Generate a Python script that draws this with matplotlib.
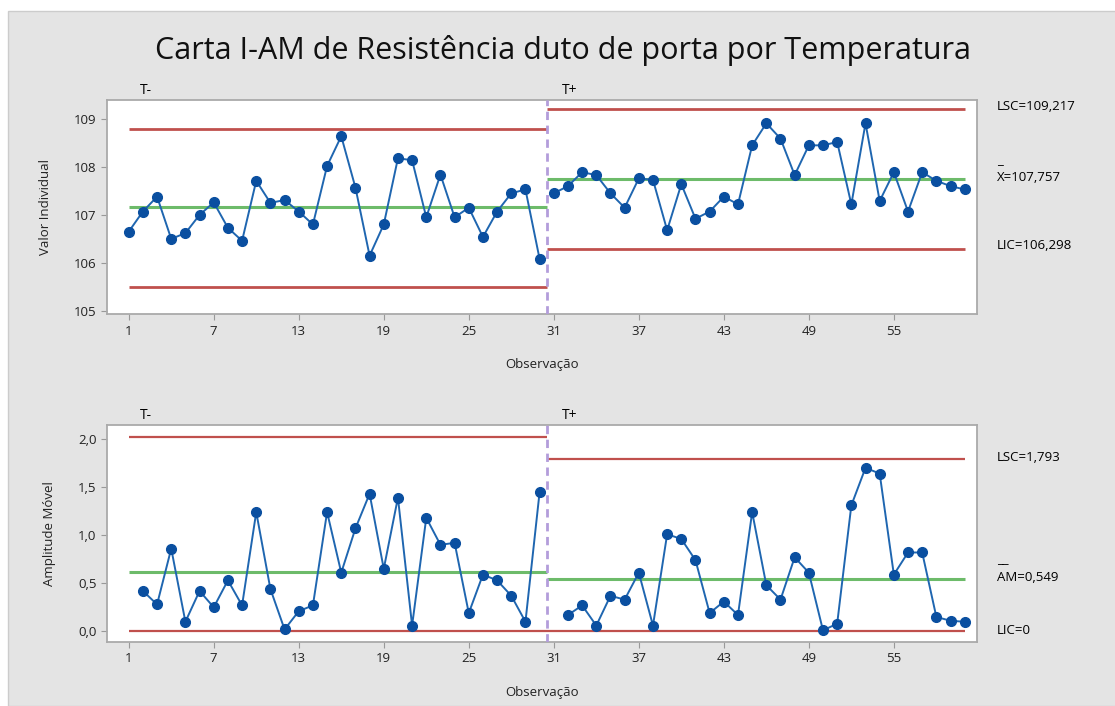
import matplotlib
matplotlib.use('Agg')
import matplotlib.pyplot as plt
from matplotlib.patches import Rectangle

# observacoes por estagio
stages = ['T-', 'T+']
obs_tm = list(range(1, 31))
obs_tp = list(range(31, 61))

# valores individuais
ind_tm = [106.66, 107.08, 107.39, 106.51, 106.63, 107.01, 107.27, 106.74, 106.47, 107.72,
          107.26, 107.32, 107.08, 106.81, 108.03, 108.65, 107.58, 106.16, 106.81, 108.19,
          108.15, 106.96, 107.85, 106.96, 107.16, 106.55, 107.08, 107.46, 107.54, 106.09]
ind_tp = [107.46, 107.61, 107.90, 107.84, 107.46, 107.16, 107.77, 107.74, 106.69, 107.65,
          106.93, 107.08, 107.39, 107.23, 108.46, 108.92, 108.60, 107.84, 108.46, 108.46,
          108.53, 107.23, 108.92, 107.30, 107.90, 107.08, 107.90, 107.72, 107.61, 107.54]

# amplitudes moveis, comecam na 2a obs de cada estagio
am_tm = [0.42, 0.28, 0.86, 0.10, 0.42, 0.25, 0.53, 0.27, 1.24, 0.44,
         0.02, 0.21, 0.27, 1.24, 0.61, 1.07, 1.43, 0.65, 1.39, 0.06,
         1.18, 0.90, 0.92, 0.19, 0.59, 0.53, 0.37, 0.10, 1.45]
am_tp = [0.17, 0.27, 0.06, 0.37, 0.33, 0.61, 0.06, 1.01, 0.96, 0.74,
         0.19, 0.31, 0.17, 1.24, 0.48, 0.33, 0.77, 0.61, 0.01, 0.08,
         1.31, 1.70, 1.64, 0.59, 0.82, 0.82, 0.15, 0.11, 0.10]

# limites por estagio: (LSC, media, LIC)
lim_i = [(108.81, 107.18, 105.51), (109.217, 107.757, 106.298)]
lim_am = [(2.023, 0.62, 0.0), (1.793, 0.549, 0.0)]

xticks = [1, 7, 13, 19, 25, 31, 37, 43, 49, 55]

red = '#c0504d'
green = '#6dbb6a'
blue = '#1f66b0'
dot = '#0a4fa0'
purple = '#b39ddb'
bg = '#e4e4e4'

plt.rcParams['font.family'] = ['Open Sans', 'DejaVu Sans']

fig = plt.figure(figsize=(11.15, 7.06), dpi=100)
fig.patches.append(Rectangle((8/1115, 0), 1, 1 - 11/706, transform=fig.transFigure,
                             facecolor=bg, edgecolor='#cccccc', lw=1, zorder=-10))

ax1 = fig.add_axes([0.096, 0.555, 0.780, 0.303])
ax2 = fig.add_axes([0.096, 0.091, 0.780, 0.307])


def desenha(ax, xs_list, ys_list, lims, lw_red):
    bounds = [(1, 30.5), (30.5, 60)]
    for (x0, x1), (lsc, m, lic) in zip(bounds, lims):
        ax.hlines([lsc, lic], x0, x1, colors=red, lw=lw_red, zorder=2)
        ax.hlines(m, x0, x1, colors=green, lw=2.2, zorder=2)
    for xs, ys in zip(xs_list, ys_list):
        ax.plot(xs, ys, color=blue, lw=1.4, marker='o', ms=7,
                mfc=dot, mec=dot, zorder=3)
    ax.axvline(30.5, color=purple, lw=2, ls=(0, (3, 2)), zorder=4)
    ax.set_xlim(-0.53, 60.85)
    ax.set_xticks(xticks)
    ax.tick_params(direction='out', length=4, color='#999999', labelsize=9.5,
                   labelcolor='#222222')
    for s in ax.spines.values():
        s.set_color('#aaaaaa')
        s.set_linewidth(1.3)
    ax.set_xlabel('Observação', fontsize=9.5, color='#222222', labelpad=15)
    ax.text(1.8, 1.03, stages[0], transform=ax.get_xaxis_transform(), fontsize=10)
    ax.text(31.6, 1.03, stages[1], transform=ax.get_xaxis_transform(), fontsize=10)


desenha(ax1, [obs_tm, obs_tp], [ind_tm, ind_tp], lim_i, 2.0)
ax1.set_ylim(104.94, 109.40)
ax1.set_yticks([105, 106, 107, 108, 109])
ax1.set_ylabel('Valor Individual', fontsize=9.5, color='#222222', labelpad=16)

desenha(ax2, [obs_tm[1:], obs_tp[1:]], [am_tm, am_tp], lim_am, 1.6)
ax2.set_ylim(-0.108, 2.145)
ax2.set_yticks([0, 0.5, 1.0, 1.5, 2.0])
ax2.set_yticklabels(['0,0', '0,5', '1,0', '1,5', '2,0'])
ax2.set_ylabel('Amplitude Móvel', fontsize=9.5, color='#222222', labelpad=16)

# rotulos dos limites do ultimo estagio
tr1 = ax1.get_yaxis_transform()
lsc, m, lic = lim_i[1]
ax1.text(1.023, lsc + 0.05, 'LSC=109,217', transform=tr1, va='center', fontsize=9.5)
ax1.text(1.023, m + 0.04, 'X=107,757', transform=tr1, va='center', fontsize=9.5)
ax1.text(1.023, m + 0.38, '_', transform=tr1, va='center', fontsize=9.5)
ax1.text(1.023, lic + 0.07, 'LIC=106,298', transform=tr1, va='center', fontsize=9.5)

tr2 = ax2.get_yaxis_transform()
lsc, m, lic = lim_am[1]
ax2.text(1.023, lsc + 0.01, 'LSC=1,793', transform=tr2, va='center', fontsize=9.5)
ax2.text(1.023, m + 0.015, 'AM=0,549', transform=tr2, va='center', fontsize=9.5)
ax2.text(1.023, m + 0.2, '__', transform=tr2, va='center', fontsize=9.5)
ax2.text(1.023, lic + 0.01, 'LIC=0', transform=tr2, va='center', fontsize=9.5)

fig.text(0.505, 1 - 50/706, 'Carta I-AM de Resistência duto de porta por Temperatura',
         ha='center', va='center', fontsize=22, color='#111111', fontweight='medium')

fig.savefig('out.png', dpi=100, facecolor='white')
